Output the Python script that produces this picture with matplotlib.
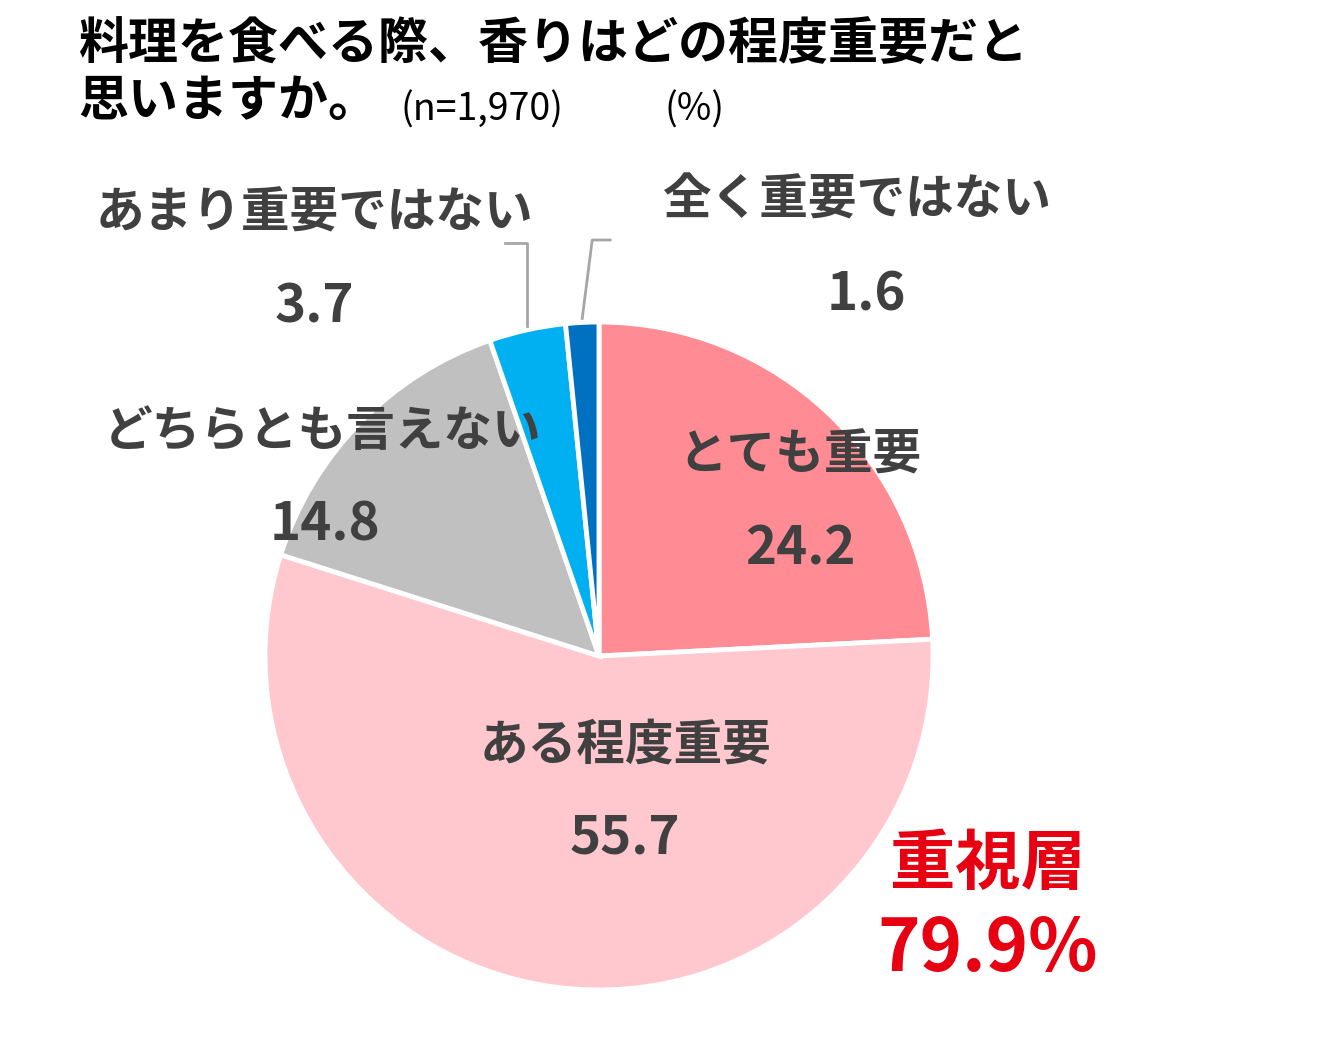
import numpy as np
import matplotlib
matplotlib.use("Agg")
import matplotlib.pyplot as plt

plt.rcParams['font.family'] = ['Noto Sans CJK JP', 'DejaVu Sans']

# data
labels = ['とても重要', 'ある程度重要', 'どちらとも言えない', 'あまり重要ではない', '全く重要ではない']
values = [24.2, 55.7, 14.8, 3.7, 1.6]
colors = ['#FF8B94', '#FFC7CE', '#C0C0C0', '#00B0F0', '#0070C0']
title_1 = '料理を食べる際、香りはどの程度重要だと'
title_2 = '思いますか。'
note_n = '(n=1,970)'
note_unit = '(%)'
group_label = '重視層'
group_value = '79.9%'

W, H = 1331, 1049
fig = plt.figure(figsize=(W / 100, H / 100), dpi=100)

# pie in its own axes placed over a pixel box
cx, cy, r = 599, 656, 334
pax = fig.add_axes([(cx - r) / W, 1 - (cy + r) / H, 2 * r / W, 2 * r / H])
pax.pie(values, colors=colors, startangle=90, counterclock=False, radius=1,
        wedgeprops=dict(edgecolor='white', linewidth=3.5))
pax.set_xlim(-1, 1)
pax.set_ylim(-1, 1)
pax.axis('off')

# overlay axes in pixel coordinates for texts and leader lines
ax = fig.add_axes([0, 0, 1, 1])
ax.set_xlim(0, W)
ax.set_ylim(H, 0)
ax.patch.set_alpha(0)
ax.axis('off')

txt = '#404040'
ax.text(78, 45, title_1, fontsize=36, weight='bold', color='black', ha='left', va='center')
ax.text(78, 102, title_2, fontsize=36, weight='bold', color='black', ha='left', va='center')
ax.text(401, 110, note_n, fontsize=27, color='black', ha='left', va='center')
ax.text(664, 110, note_unit, fontsize=27, color='black', ha='left', va='center')

# label positions (pixel) : name, value
label_pos = [((800, 455), (800, 549)),
             ((625, 745), (625, 838)),
             ((323, 432), (325, 525)),
             ((314, 213), (314, 307)),
             ((857, 200), (866, 295))]
for lab, v, (p1, p2) in zip(labels, values, label_pos):
    ax.text(p1[0], p1[1], lab, fontsize=35, weight='bold', color=txt, ha='center', va='center')
    ax.text(p2[0], p2[1], f'{v:.1f}', fontsize=38, weight='bold', color=txt, ha='center', va='center')

# leader lines for the small slices
cum = np.cumsum([0] + values)
for i, (elbow_y, end_dx) in zip([3, 4], [(243, -22), (240, 18)]):
    mid = (cum[i] + cum[i + 1]) / 2 / 100 * 2 * np.pi
    x0 = cx + r * np.sin(mid)
    y0 = cy - r * np.cos(mid) - 4
    if i == 3:
        xs = [x0, x0, x0 + end_dx]
    else:
        xs = [x0, x0 + 10, x0 + 10 + end_dx]
    ax.plot(xs, [y0, elbow_y, elbow_y], color='#A6A6A6', lw=2)

ax.text(988, 865, group_label, fontsize=47, weight='bold', color='#E60012', ha='center', va='center')
ax.text(988, 950, group_value, fontsize=52, weight='bold', color='#E60012', ha='center', va='center')

fig.savefig('out.png', dpi=100, facecolor='white')
